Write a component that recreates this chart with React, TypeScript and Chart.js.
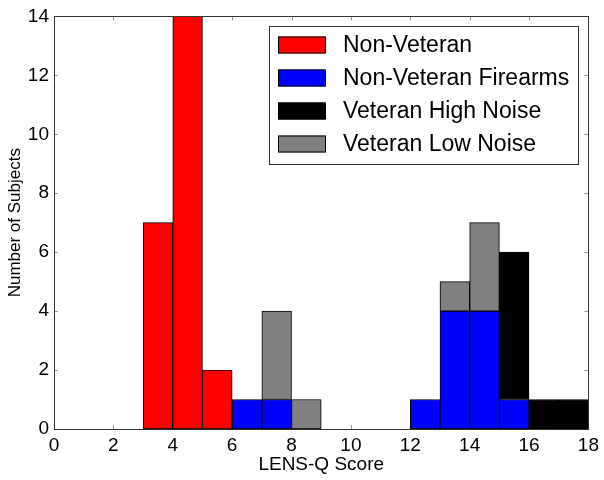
import React, { useEffect, useRef } from "react";
import { Chart, registerables } from "chart.js";

Chart.register(...registerables);

const binStarts = [0, 1, 2, 3, 4, 5, 6, 7, 8, 9, 10, 11, 12, 13, 14, 15, 16, 17];
const nonVeteran = [null, null, null, 7, 14, 2, null, null, null, null, null, null, null, null, null, null, null, null];
const nonVeteranFirearms = [null, null, null, null, null, null, 1, 1, null, null, null, null, 1, 4, 4, 1, null, null];
const veteranHighNoise = [null, null, null, null, null, null, null, null, null, null, null, null, null, null, null, 5, 1, 1];
const veteranLowNoise = [null, null, null, null, null, null, null, 3, 1, null, null, null, null, 1, 3, null, null, null];
const seriesLabels = ["Non-Veteran", "Non-Veteran Firearms", "Veteran High Noise", "Veteran Low Noise"];
const seriesColors = ["#ff0000", "#0000ff", "#000000", "#808080"];

const FONT = "'Liberation Sans', Arial, sans-serif";

const framePlugin = {
  id: "frame",
  beforeDatasetsDraw(chart: any) {
    const { ctx, chartArea: a, scales } = chart;
    ctx.save();
    ctx.strokeStyle = "#999999";
    ctx.lineWidth = 1;
    ctx.beginPath();
    scales.x.ticks.forEach((t: any) => {
      const px = Math.round(scales.x.getPixelForValue(t.value)) + 0.5;
      ctx.moveTo(px, a.bottom);
      ctx.lineTo(px, a.bottom - 4);
      ctx.moveTo(px, a.top);
      ctx.lineTo(px, a.top + 4);
    });
    scales.y.ticks.forEach((t: any) => {
      const py = Math.round(scales.y.getPixelForValue(t.value)) + 0.5;
      ctx.moveTo(a.left, py);
      ctx.lineTo(a.left + 4, py);
      ctx.moveTo(a.right, py);
      ctx.lineTo(a.right - 4, py);
    });
    ctx.stroke();
    ctx.restore();
  },
  afterDatasetsDraw(chart: any) {
    const { ctx, chartArea: a } = chart;
    ctx.save();
    ctx.strokeStyle = "#333333";
    ctx.lineWidth = 1;
    ctx.strokeRect(Math.round(a.left) + 0.5, Math.round(a.top) + 0.5, Math.round(a.right - a.left), Math.round(a.bottom - a.top));
    ctx.restore();
  },
  afterDraw(chart: any) {
    const { ctx } = chart;
    const bx = 269, by = 26, bw = 309, bh = 138;
    ctx.save();
    ctx.fillStyle = "#ffffff";
    ctx.fillRect(bx, by, bw, bh);
    ctx.strokeStyle = "#333333";
    ctx.lineWidth = 1;
    ctx.strokeRect(bx + 0.5, by + 0.5, bw, bh);
    ctx.font = `23px ${FONT}`;
    ctx.textBaseline = "middle";
    ctx.textAlign = "left";
    chart.data.datasets.forEach((ds: any, i: number) => {
      const cy = 44.5 + i * 33;
      ctx.fillStyle = ds.backgroundColor;
      ctx.fillRect(278, cy - 8, 47, 17);
      ctx.strokeStyle = "#000000";
      ctx.strokeRect(278.5, cy - 7.5, 47, 16);
      ctx.fillStyle = "#000000";
      ctx.fillText(ds.label, 343, cy + 1);
    });
    ctx.restore();
  },
};

export default function App() {
  const ref = useRef<HTMLCanvasElement | null>(null);
  useEffect(() => {
    document.body.style.margin = "0";
    const series = [nonVeteran, nonVeteranFirearms, veteranHighNoise, veteranLowNoise];
    const chart = new Chart(ref.current as HTMLCanvasElement, {
      type: "bar",
      data: {
        datasets: series.map((vals, k) => ({
          label: seriesLabels[k],
          data: binStarts.map((b, i) => ({ x: b + 0.5, y: vals[i] })),
          backgroundColor: seriesColors[k],
          borderColor: "#000000",
          borderWidth: 1,
          borderSkipped: false,
          barPercentage: 1,
          categoryPercentage: 1,
        })),
      } as any,
      options: {
        animation: false,
        responsive: false,
        devicePixelRatio: 1,
        layout: { padding: { left: 0, right: 15, top: 14, bottom: 0 } },
        plugins: { legend: { display: false }, tooltip: { enabled: false } },
        scales: {
          x: {
            type: "linear",
            stacked: true,
            offset: false,
            min: 0,
            max: 18,
            grid: { display: false, drawTicks: false },
            border: { display: false },
            ticks: { stepSize: 2, padding: 5, color: "#000", font: { family: FONT, size: 19 }, maxRotation: 0 },
            title: { display: true, text: "LENS-Q Score", color: "#000", font: { family: FONT, size: 19 }, padding: { top: 0, bottom: 4 } },
            afterFit(s: any) { s.height = 51; },
          },
          y: {
            stacked: true,
            min: 0,
            max: 14,
            grid: { display: false, drawTicks: false },
            border: { display: false },
            ticks: { stepSize: 2, padding: 5, color: "#000", font: { family: FONT, size: 19 } },
            title: { display: true, text: "Number of Subjects", color: "#000", font: { family: FONT, size: 17 }, padding: { top: 5, bottom: 0 } },
            afterFit(s: any) { s.width = 54; },
          },
        },
      } as any,
      plugins: [framePlugin],
    });
    return () => chart.destroy();
  }, []);
  return <canvas ref={ref} width={604} height={480} style={{ display: "block" }} />;
}
